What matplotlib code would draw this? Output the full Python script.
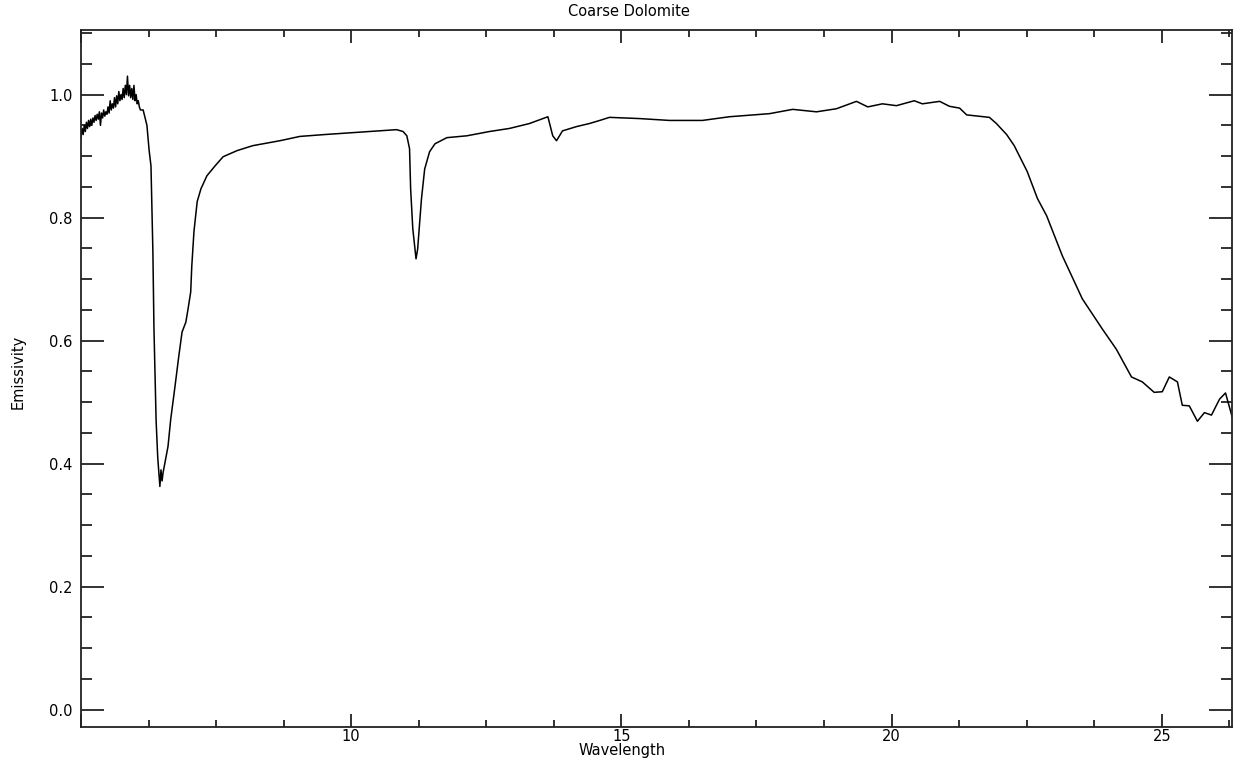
import matplotlib
matplotlib.use("Agg")
import matplotlib.pyplot as plt
from matplotlib.ticker import MultipleLocator

# wavelength (micron) and emissivity
wavelength = [
    5.00, 5.02, 5.04, 5.06, 5.08, 5.10, 5.12, 5.14, 5.16, 5.18,
    5.20, 5.22, 5.24, 5.26, 5.28, 5.30, 5.32, 5.34, 5.36, 5.38,
    5.40, 5.42, 5.44, 5.46, 5.48, 5.50, 5.52, 5.54, 5.56, 5.58,
    5.60, 5.62, 5.64, 5.66, 5.68, 5.70, 5.72, 5.74, 5.76, 5.78,
    5.80, 5.82, 5.84, 5.86, 5.88, 5.90, 5.92, 5.94, 5.96, 5.98,
    6.00, 6.02, 6.04, 6.06, 6.08, 6.10, 6.15, 6.22, 6.26, 6.295,
    6.31, 6.33, 6.35, 6.39, 6.42, 6.46, 6.48, 6.50, 6.52, 6.61,
    6.66, 6.74, 6.81, 6.87, 6.94, 6.98, 7.03, 7.05, 7.09, 7.11,
    7.15, 7.22, 7.33, 7.48, 7.63, 7.89, 8.18, 8.68, 9.05, 9.50,
    10.0, 10.5, 10.84, 10.96, 11.03, 11.08, 11.10, 11.14, 11.20, 11.23,
    11.30, 11.36, 11.45, 11.55, 11.77, 12.14, 12.56, 12.93, 13.30, 13.64,
    13.73, 13.80, 13.91, 14.17, 14.41, 14.60, 14.78, 15.34, 15.89, 16.50,
    17.00, 17.74, 18.17, 18.61, 18.98, 19.35, 19.56, 19.83, 20.09, 20.42,
    20.57, 20.89, 21.07, 21.26, 21.39, 21.81, 21.94, 22.13, 22.27, 22.51,
    22.70, 22.87, 23.16, 23.53, 23.90, 24.16, 24.44, 24.64, 24.86, 25.01,
    25.14, 25.29, 25.38, 25.51, 25.66, 25.79, 25.92, 26.07, 26.18, 26.30,
]
emissivity = [
    0.930, 0.945, 0.935, 0.950, 0.940, 0.955, 0.945, 0.958, 0.948, 0.960,
    0.950, 0.962, 0.955, 0.966, 0.958, 0.968, 0.960, 0.972, 0.950, 0.970,
    0.962, 0.975, 0.965, 0.972, 0.968, 0.980, 0.970, 0.990, 0.975, 0.985,
    0.978, 0.995, 0.980, 0.998, 0.985, 1.005, 0.990, 1.000, 0.992, 1.010,
    0.995, 1.015, 1.000, 1.030, 0.998, 1.015, 0.995, 1.010, 0.992, 1.015,
    0.990, 1.000, 0.985, 0.990, 0.980, 0.975, 0.975, 0.950, 0.910, 0.884,
    0.826, 0.746, 0.620, 0.470, 0.410, 0.363, 0.390, 0.372, 0.386, 0.428,
    0.472, 0.526, 0.575, 0.614, 0.630, 0.651, 0.679, 0.721, 0.777, 0.793,
    0.826, 0.847, 0.868, 0.884, 0.899, 0.909, 0.917, 0.925, 0.932, 0.935,
    0.938, 0.941, 0.943, 0.940, 0.933, 0.912, 0.847, 0.782, 0.733, 0.749,
    0.830, 0.879, 0.907, 0.920, 0.930, 0.933, 0.940, 0.945, 0.953, 0.964,
    0.933, 0.925, 0.941, 0.948, 0.953, 0.958, 0.963, 0.961, 0.958, 0.958,
    0.964, 0.969, 0.976, 0.972, 0.977, 0.989, 0.980, 0.985, 0.982, 0.990,
    0.985, 0.989, 0.981, 0.978, 0.967, 0.963, 0.953, 0.935, 0.917, 0.875,
    0.831, 0.803, 0.738, 0.668, 0.619, 0.586, 0.541, 0.533, 0.516, 0.517,
    0.541, 0.533, 0.495, 0.494, 0.469, 0.483, 0.479, 0.505, 0.515, 0.477,
]

fig = plt.figure(figsize=(12.33, 7.59), dpi=100)
ax = fig.add_axes([81 / 1233, 1 - 727 / 759, 1151 / 1233, 697 / 759])

ax.plot(wavelength, emissivity, color="black", lw=1.1)

ax.set_xlim(5.0, 26.3)
ax.set_ylim(-0.028, 1.105)

ax.xaxis.set_major_locator(MultipleLocator(5))
ax.xaxis.set_minor_locator(MultipleLocator(1.25))
ax.yaxis.set_major_locator(MultipleLocator(0.2))
ax.yaxis.set_minor_locator(MultipleLocator(0.05))
ax.xaxis.set_major_formatter(lambda v, p: "" if v < 6 else f"{v:.0f}")
ax.yaxis.set_major_formatter(lambda v, p: f"{v:.1f}")

ax.tick_params(which="both", direction="in", top=True, right=True,
               color="#222222", width=1.3, labelsize=10.5)
ax.tick_params(axis="x", which="major", length=9.5, pad=1.5)
ax.tick_params(axis="x", which="minor", length=5)
ax.tick_params(axis="y", which="major", length=16.5, pad=6)
ax.tick_params(axis="y", which="minor", length=8)
for s in ax.spines.values():
    s.set_linewidth(1.3)
    s.set_color("#222222")

fig.text(629 / 1233, 1 - 12 / 759, "Coarse Dolomite", ha="center", va="center", fontsize=10.5)
fig.text(622 / 1233, 1 - 751 / 759, "Wavelength", ha="center", va="center", fontsize=10.5)
fig.text(18 / 1233, 1 - 372 / 759, "Emissivity", ha="center", va="center",
         rotation=90, fontsize=10.5)

fig.savefig("out.png", dpi=100)
